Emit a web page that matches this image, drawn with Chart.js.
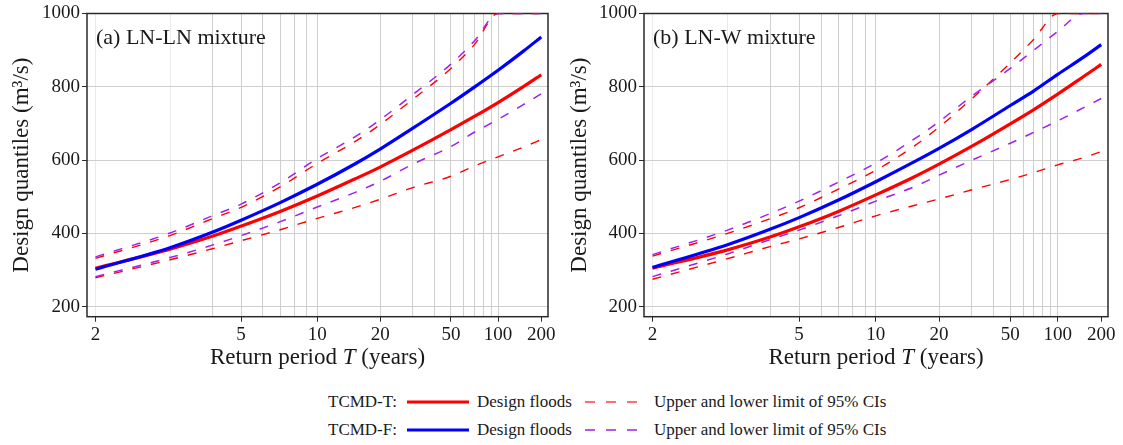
<!DOCTYPE html>
<html>
<head>
<meta charset="utf-8">
<script src="https://cdn.jsdelivr.net/npm/chart.js@4.4.1/dist/chart.umd.min.js"></script>
<style>
  html, body { margin: 0; padding: 0; background: #fff; }
  #wrap { position: relative; width: 1123px; height: 445px; background: #fff; overflow: hidden;
          font-family: "Liberation Serif", "Times New Roman", serif; color: #1a1a1a; }
  .panel { position: absolute; top: 0; height: 380px; }
  .lg { position: absolute; font-size: 17px; line-height: 20px; height: 20px; white-space: nowrap; }
  svg.lg { height: 10px; }
</style>
</head>
<body>
<div id="wrap">
  <div class="panel" style="left:0;width:560px"><canvas id="cA" width="560" height="380"></canvas></div>
  <div class="panel" style="left:560px;width:563px"><canvas id="cB" width="563" height="380"></canvas></div>

  <div class="lg" style="left:328px;top:392px">TCMD-T:</div>
  <svg class="lg" style="left:407px;top:397px" width="62" height="10"><line x1="0" y1="5" x2="62" y2="5" stroke="#FF0000" stroke-width="3"/></svg>
  <div class="lg" style="left:477px;top:392px">Design floods</div>
  <svg class="lg" style="left:585px;top:397px" width="53" height="10"><line x1="0" y1="5" x2="53" y2="5" stroke="#FF4040" stroke-width="1.3" stroke-dasharray="10 11"/></svg>
  <div class="lg" style="left:654px;top:392px">Upper and lower limit of 95% CIs</div>

  <div class="lg" style="left:328px;top:420px">TCMD-F:</div>
  <svg class="lg" style="left:407px;top:425px" width="62" height="10"><line x1="0" y1="5" x2="62" y2="5" stroke="#0000FF" stroke-width="3"/></svg>
  <div class="lg" style="left:477px;top:420px">Design floods</div>
  <svg class="lg" style="left:585px;top:425px" width="53" height="10"><line x1="0" y1="5" x2="53" y2="5" stroke="#A020F0" stroke-width="1.6" stroke-dasharray="10 11"/></svg>
  <div class="lg" style="left:654px;top:420px">Upper and lower limit of 95% CIs</div>
</div>

<script>
// ---------------- data ----------------
const returnPeriods = [2, 3, 4, 5, 7, 10, 15, 20, 30, 50, 70, 100, 150, 200];

// (a) LN-LN mixture
const aTDesign = [305, 357, 392, 420, 460, 502, 549, 581, 627, 683, 719, 757, 801, 833];
const aTUpper  = [332, 394, 440, 471, 527, 591, 651, 697, 766, 850, 915, 1000, 1000, 1000];
const aTLower  = [279, 328, 358, 380, 410, 441, 471, 493, 525, 556, 584, 609, 636, 656];
const aFDesign = [302, 361, 403, 436, 484, 534, 590, 630, 687, 755, 799, 845, 898, 936];
const aFUpper  = [336, 401, 448, 480, 538, 604, 664, 710, 779, 862, 925, 1000, 1000, 1000];
const aFLower  = [282, 334, 368, 394, 432, 472, 512, 542, 589, 637, 676, 711, 752, 781];

// (b) LN-W mixture
const bTDesign = [305, 355, 390, 418, 460, 505, 554, 589, 638, 699, 738, 780, 828, 861];
const bTUpper  = [338, 400, 440, 470, 521, 572, 638, 690, 768, 865, 930, 1000, 1000, 1000];
const bTLower  = [275, 331, 364, 385, 416, 448, 476, 494, 519, 547, 566, 587, 607, 623];
const bFDesign = [307, 369, 411, 443, 491, 541, 595, 632, 684, 749, 789, 834, 881, 915];
const bFUpper  = [342, 409, 454, 488, 540, 592, 657, 705, 775, 850, 900, 951, 1000, 1000];
const bFLower  = [282, 344, 383, 409, 448, 488, 527, 559, 600, 646, 676, 707, 743, 768];

// axes
const xGridTicks  = [2, 3, 4, 5, 6, 7, 8, 9, 10, 20, 30, 40, 50, 60, 70, 80, 90, 100, 200];
const xLabelTicks = [2, 5, 10, 20, 50, 100, 200];
const yTicks      = [200, 400, 600, 800, 1000];
const panelLabels = ['(a) LN-LN mixture', '(b) LN-W mixture'];
const yTitle = 'Design quantiles (m\u00B3/s)';
const xTitleParts = ['Return period ', 'T', ' (years)'];

// ---------------- normal probability (return period) scale ----------------
function qnorm(p) {
  const a=[-3.969683028665376e+01,2.209460984245205e+02,-2.759285104469687e+02,1.383577518672690e+02,-3.066479806614716e+01,2.506628277459239e+00];
  const b=[-5.447609879822406e+01,1.615858368580409e+02,-1.556989798598866e+02,6.680131188771972e+01,-1.328068155288572e+01];
  const c=[-7.784894002430293e-03,-3.223964580411365e-01,-2.400758277161838e+00,-2.549732539343734e+00,4.374664141464968e+00,2.938163982698783e+00];
  const d=[7.784695709041462e-03,3.224671290700398e-01,2.445134137142996e+00,3.754408661907416e+00];
  const pl = 0.02425, ph = 1 - pl;
  let q, r;
  if (p < pl) { q = Math.sqrt(-2*Math.log(p)); return (((((c[0]*q+c[1])*q+c[2])*q+c[3])*q+c[4])*q+c[5])/((((d[0]*q+d[1])*q+d[2])*q+d[3])*q+1); }
  if (p <= ph) { q = p - 0.5; r = q*q; return (((((a[0]*r+a[1])*r+a[2])*r+a[3])*r+a[4])*r+a[5])*q/(((((b[0]*r+b[1])*r+b[2])*r+b[3])*r+b[4])*r+1); }
  q = Math.sqrt(-2*Math.log(1-p)); return -(((((c[0]*q+c[1])*q+c[2])*q+c[3])*q+c[4])*q+c[5])/((((d[0]*q+d[1])*q+d[2])*q+d[3])*q+1);
}
function pnorm(z) {
  const t = 1/(1+0.2316419*Math.abs(z));
  const y = 0.3989422804014327*Math.exp(-z*z/2)*t*(0.319381530+t*(-0.356563782+t*(1.781477937+t*(-1.821255978+t*1.330274429))));
  return z >= 0 ? 1 - y : y;
}
class ReturnPeriodScale extends Chart.LinearScale {
  static id = 'returnPeriod';
  static defaults = { ticks: { callback: (v) => String(v) } };
  toZ(T) { return qnorm(1 - 1 / T); }
  determineDataLimits() { this.min = this.options.min; this.max = this.options.max; }
  buildTicks() { return []; }
  configure() {
    super.configure();
    this._zMin = this.toZ(this.min);
    this._zMax = this.toZ(this.max);
  }
  getPixelForValue(value) {
    return this.getPixelForDecimal((this.toZ(value) - this._zMin) / (this._zMax - this._zMin));
  }
  getValueForPixel(pixel) {
    const z = this._zMin + this.getDecimalForPixel(pixel) * (this._zMax - this._zMin);
    return 1 / (1 - pnorm(z));
  }
}
Chart.register(ReturnPeriodScale);

// ---------------- drawing ----------------
const FONT = '"Liberation Serif", "Times New Roman", serif';
const RED = '#FF0000', BLUE = '#0000FF', PURPLE = '#A020F0';

const decor = {
  id: 'decor',
  beforeDatasetsDraw(chart) {
    const { ctx, chartArea: a } = chart;
    ctx.save();
    ctx.strokeStyle = '#2a2a2a';
    ctx.lineWidth = 1.5;
    ctx.strokeRect(a.left, a.top, a.right - a.left, a.bottom - a.top);
    ctx.restore();
  },
  afterDraw(chart, args, opts) {
    const { ctx, chartArea: a } = chart;
    ctx.save();
    ctx.fillStyle = '#1a1a1a';
    ctx.textBaseline = 'middle';
    ctx.textAlign = 'left';
    ctx.font = '22px ' + FONT;
    ctx.fillText(opts.label, a.left + 9, 38);
    // x title with italic T
    const fonts = ['23px ' + FONT, 'italic 23px ' + FONT, '23px ' + FONT];
    const widths = xTitleParts.map((t, i) => { ctx.font = fonts[i]; return ctx.measureText(t).width; });
    const total = widths.reduce((s, w) => s + w, 0);
    let x = (a.left + a.right) / 2 - total / 2;
    xTitleParts.forEach((t, i) => { ctx.font = fonts[i]; ctx.fillText(t, x, opts.titleY); x += widths[i]; });
    ctx.restore();
  }
};

function line(label, data, color, width, dashed) {
  return {
    label,
    data: returnPeriods.map((T, i) => ({ x: T, y: data[i] })),
    borderColor: color,
    backgroundColor: color,
    borderWidth: width,
    borderDash: dashed ? [9, 10] : [],
    pointRadius: 0,
    fill: false,
    cubicInterpolationMode: 'monotone'
  };
}

function makeChart(canvasId, s, geo) {
  return new Chart(document.getElementById(canvasId), {
    type: 'line',
    data: {
      datasets: [
        line('TCMD-F upper', s.fU, PURPLE, 1.5, true),
        line('TCMD-F lower', s.fL, PURPLE, 1.5, true),
        line('TCMD-T upper', s.tU, RED, 1.4, true),
        line('TCMD-T lower', s.tL, RED, 1.4, true),
        line('TCMD-F design', s.fD, BLUE, 3.2, false),
        line('TCMD-T design', s.tD, RED, 3.2, false)
      ]
    },
    options: {
      responsive: false,
      animation: false,
      events: [],
      layout: { padding: { left: 0, right: geo.padRight, top: 13.5, bottom: 0 } },
      plugins: {
        legend: { display: false },
        tooltip: { enabled: false },
        decor: { label: geo.label, titleY: 358 }
      },
      scales: {
        x: {
          type: 'returnPeriod',
          min: 1.925,
          max: 224,
          afterBuildTicks: (sc) => { sc.ticks = xGridTicks.map(v => ({ value: v })); },
          afterFit: (sc) => { sc.height = 63.3; },
          border: { display: false },
          grid: {
            color: (c) => {
              const v = c.tick && c.tick.value;
              if (v === 200) return 'rgba(0,0,0,0)';
              if (v === 2 || v === 3) return '#ebebeb';
              return '#cfcfcf';
            },
            lineWidth: 1,
            tickLength: 5,
            tickColor: (c) => (c.tick && xLabelTicks.includes(c.tick.value)) ? '#2a2a2a' : 'rgba(0,0,0,0)'
          },
          ticks: {
            autoSkip: false, maxRotation: 0, minRotation: 0, padding: 2,
            color: '#1a1a1a',
            font: { family: FONT, size: 19 },
            callback: (v) => xLabelTicks.includes(v) ? String(v) : ''
          }
        },
        y: {
          type: 'linear',
          min: 172.7,
          max: 1000,
          afterBuildTicks: (sc) => { sc.ticks = yTicks.map(v => ({ value: v })); },
          afterFit: (sc) => { sc.width = geo.yWidth; },
          border: { display: false },
          grid: { color: '#cfcfcf', lineWidth: 1, tickLength: 5, tickColor: '#2a2a2a' },
          ticks: {
            padding: 2, color: '#1a1a1a', font: { family: FONT, size: 19 },
            callback: (v) => String(v)
          },
          title: {
            display: true, text: yTitle, color: '#1a1a1a',
            font: { family: FONT, size: 23 },
            padding: { top: geo.titlePad, bottom: 0 }
          }
        }
      }
    },
    plugins: [decor]
  });
}

makeChart('cA', { tD: aTDesign, tU: aTUpper, tL: aTLower, fD: aFDesign, fU: aFUpper, fL: aFLower },
  { label: panelLabels[0], padRight: 12, yWidth: 87, titlePad: 7.7 });
makeChart('cB', { tD: bTDesign, tU: bTUpper, tL: bTLower, fD: bFDesign, fU: bFUpper, fL: bFLower },
  { label: panelLabels[1], padRight: 15, yWidth: 84, titlePad: 6 });
</script>
</body>
</html>
